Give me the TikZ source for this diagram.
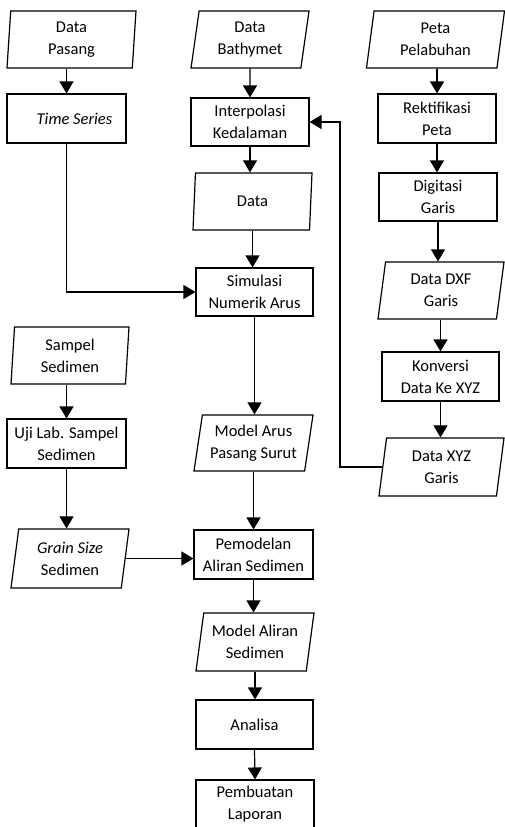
\documentclass[tikz,border=0pt]{standalone}
\usepackage{fontspec}
\setmainfont{Carlito}
\usetikzlibrary{arrows.meta,shapes.geometric}
\tikzset{
  proses/.style={draw, line width=1.1pt, rectangle, minimum width=119pt, minimum height=49pt, inner sep=0pt, align=center},
  datain/.style={draw, line width=1.2pt, trapezium, trapezium left angle=77, trapezium right angle=103, trapezium stretches body, minimum width=#1, minimum height=57pt, inner sep=0pt, align=center},
  datain/.default=118pt,
  panah/.style={line width=1.2pt, -{Triangle[length=12pt,width=14pt]}}
}

\begin{document}
\begin{tikzpicture}[x=1pt, y=-1pt, font=\fontsize{16.5}{22}\selectfont]
			%%%%% START %%%%%
			\useasboundingbox (0, 0) rectangle (504, 827);
			
			% kolom kiri
			\node[datain=129pt, trapezium left angle=84, trapezium right angle=96] (pasang) at (71.5, 39.5) {Data\\Pasang};
			\node[proses] (series) at (66.5, 118.5) {\hspace*{16pt}\itshape Time Series};
			\node[datain, trapezium left angle=84, trapezium right angle=96] (sampel) at (70, 355.5) {Sampel\\Sedimen};
			\node[proses] (uji) at (66.5, 443.5) {Uji Lab. Sampel\\Sedimen};
			\node[datain, minimum height=59pt] (grain) at (70, 558.5) {\itshape Grain Size\\Sedimen};
			
			% kolom tengah
			\node[datain] (bathy) at (250, 39.5) {Data\\Bathymet};
			\node[proses, minimum width=118pt, minimum height=48pt] (interp) at (250, 122) {Interpolasi\\Kedalaman};
			\node[datain=119pt] (data) at (252.5, 201.5) {Data};
			\node[proses, minimum width=117pt, minimum height=48pt] (simul) at (254.5, 292) {Simulasi\\Numerik Arus};
			\node[datain=119pt, minimum height=56pt] (arus) at (253.5, 443) {Model Arus\\Pasang Surut};
			\node[proses] (pemod) at (253.5, 554.5) {Pemodelan\\Aliran Sedimen};
			\node[datain, minimum height=58pt] (aliran) at (255, 642) {Model Aliran\\Sedimen};
			\node[proses, minimum width=117pt] (analisa) at (254.5, 724.5) {Analisa};
			\node[proses, minimum width=118pt] (laporan) at (255, 804.5) {Pembuatan\\Laporan};
			
			% kolom kanan
			\node[datain=138pt] (peta) at (435.5, 39.5) {Peta\\Pelabuhan};
			\node[proses, minimum width=118pt] (rekt) at (437, 118.5) {Rektifikasi\\Peta};
			\node[proses, minimum width=118pt, minimum height=48pt] (digit) at (438, 197) {Digitasi\\Garis};
			\node[datain=126pt] (dxf) at (441, 290.5) {Data DXF\\Garis};
			\node[proses, minimum width=117pt] (konv) at (440.5, 376.5) {Konversi\\Data Ke XYZ};
			\node[datain=125pt, minimum height=58pt] (xyz) at (441.5, 467) {Data XYZ\\Garis};
			
			\coordinate (balik) at (340, 122);
			
			% panah
			\draw[panah] (series.north |- pasang.south) -- (series.north);
			\draw[panah] (series.south) |- (simul.west);
			\draw[panah] (uji.north |- sampel.south) -- (uji.north);
			\draw[panah] (uji.south) -- (uji.south |- grain.north);
			\draw[panah] (grain.east) -- (grain.east -| pemod.west);
			
			\draw[panah] (bathy.south) -- (interp.north);
			\draw[panah] (interp.south) -- (interp.south |- data.north);
			\draw[panah] (data.south) -- (data.south |- simul.north);
			\draw[panah] (simul.south) -- (simul.south |- arus.north);
			\draw[panah] (arus.south) -- (arus.south |- pemod.north);
			\draw[panah] (pemod.south) -- (pemod.south |- aliran.north);
			\draw[panah] (aliran.south) -- (aliran.south |- analisa.north);
			\draw[panah] (analisa.south) -- (laporan.north);
			
			\draw[panah] (rekt.north |- peta.south) -- (rekt.north);
			\draw[panah] (rekt.south) -- (rekt.south |- digit.north);
			\draw[panah] (digit.south) -- (digit.south |- dxf.north);
			\draw[panah] (konv.north |- dxf.south) -- (konv.north);
			\draw[panah] (konv.south) -- (konv.south |- xyz.north);
			\draw[panah] (xyz.west) -| (balik) -- (interp.east);
			%%%%% END %%%%%
		\end{tikzpicture}
\end{document}
